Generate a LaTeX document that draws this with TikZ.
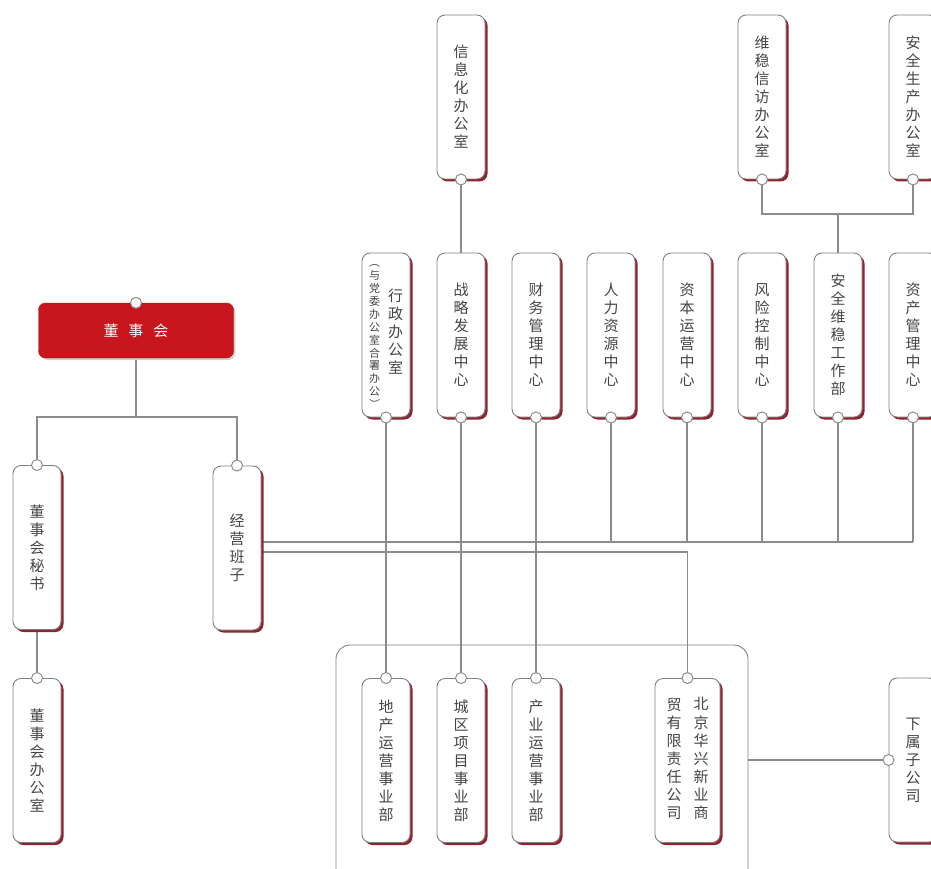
\documentclass[tikz,border=0pt]{standalone}
\usepackage{fontspec}
\newfontfamily\cjk{Noto Sans CJK SC}
\usetikzlibrary{shadows,backgrounds}
\definecolor{linegrey}{HTML}{8C8C8C}
\definecolor{boxgrey}{HTML}{808080}
\definecolor{textgrey}{HTML}{454545}
\definecolor{boardred}{HTML}{C8161E}
\definecolor{shadowred}{HTML}{8E2430}

\begin{document}
\begin{tikzpicture}[x=1pt,y=-1pt,
  line/.style={draw=linegrey,line width=1.2pt},
  unit/.style={draw=boxgrey,line width=0.9pt,fill=white,rounded corners=8pt,
    minimum width=48pt,minimum height=164pt,inner sep=0pt,align=center,
    text=textgrey,font=\cjk\fontsize{15}{18}\selectfont,
    general shadow={fill=shadowred,shadow xshift=2.5pt,shadow yshift=-2.5pt}},
  wide/.style={unit,minimum width=65pt},
  board/.style={fill=boardred,draw=boardred!85!black,rounded corners=7pt,
    minimum width=195pt,minimum height=55pt,text=white,
    font=\cjk\fontsize{15}{18}\selectfont,
    general shadow={fill=gray!35,shadow xshift=2pt,shadow yshift=-2pt}},
  frame/.style={draw=boxgrey,line width=0.9pt,rounded corners=14pt,
    minimum width=412pt,minimum height=240pt},
  joint/.style={draw=linegrey,line width=1pt,fill=white}]
  \def\vcol#1{\begin{tabular}{@{}c@{}}#1\end{tabular}}
  \useasboundingbox (0,0) rectangle (931,869);
  % board and its secretary
  \node[board] (board) at (136,330.5) {董\hspace{10pt}事\hspace{10pt}会};
  \node[unit] (mishu) at (37,547.5) {董\\事\\会\\秘\\书};
  \node[unit] (jyb) at (237,548) {经\\营\\班\\子};
  \node[unit] (dshb) at (37,760.5) {董\\事\\会\\办\\公\\室};
  % top row
  \node[unit] (xxb) at (461,97) {信\\息\\化\\办\\公\\室};
  \node[unit] (wwb) at (762,97) {维\\稳\\信\\访\\办\\公\\室};
  \node[unit] (aqb) at (913,97) {安\\全\\生\\产\\办\\公\\室};
  % functional centres
  \node[unit] (xz) at (386,335) {\begin{tabular}{@{}c@{\hspace{8pt}}c@{}}
      {\fontsize{11}{12.5}\selectfont\vcol{︵\\与\\党\\委\\办\\公\\室\\合\\署\\办\\公\\︶}} &
      \vcol{行\\政\\办\\公\\室}\end{tabular}};
  \node[unit] (zl) at (461,335) {战\\略\\发\\展\\中\\心};
  \node[unit] (cw) at (536,335) {财\\务\\管\\理\\中\\心};
  \node[unit] (rl) at (611,335) {人\\力\\资\\源\\中\\心};
  \node[unit] (zb) at (687,335) {资\\本\\运\\营\\中\\心};
  \node[unit] (fx) at (762,335) {风\\险\\控\\制\\中\\心};
  \node[unit] (aw) at (838,335) {安\\全\\维\\稳\\工\\作\\部};
  \node[unit] (zc) at (913,335) {资\\产\\管\\理\\中\\心};
  % business units
  \node[frame] (grp) at (542,765) {};
  \node[unit] (dc) at (386,760.5) {地\\产\\运\\营\\事\\业\\部};
  \node[unit] (cq) at (461,760.5) {城\\区\\项\\目\\事\\业\\部};
  \node[unit] (cy) at (536,760.5) {产\\业\\运\\营\\事\\业\\部};
  \node[wide] (bj) at (687.5,760.5) {\begin{tabular}{@{}c@{\hspace{12pt}}c@{}}
      \vcol{贸\\有\\限\\责\\任\\公\\司} & \vcol{北\\京\\华\\兴\\新\\业\\商}\end{tabular}};
  \node[unit] (xs) at (913,760) {下\\属\\子\\公\\司};
  % connectors
  \begin{scope}[on background layer]
    \coordinate (split) at (136,417);
    \coordinate (busa) at (261,542);
    \coordinate (busb) at (261,552);
    \coordinate (wjunc) at (838,214);
    \draw[line] (board.south) -- (split);
    \draw[line] (mishu.north) |- (split) -| (jyb.north);
    \draw[line] (mishu.south) -- (dshb.north);
    \draw[line] (busa) -- (zc.south |- busa);
    \foreach \n in {rl,zb,fx,aw,zc}
      \draw[line] (\n.south) -- (\n.south |- busa);
    \draw[line] (xz.south) -- (dc.north);
    \draw[line] (zl.south) -- (cq.north);
    \draw[line] (cw.south) -- (cy.north);
    \draw[line] (busb) -| (bj.north);
    \draw[line] (xxb.south) -- (zl.north);
    \draw[line] (wwb.south) |- (wjunc) -| (aqb.south);
    \draw[line] (wjunc) -- (aw.north);
    \draw[line] (grp.east |- xs.west) -- (xs.west);
  \end{scope}
  % joints
  \foreach \p in {board.north,mishu.north,jyb.north,dshb.north,xxb.south,wwb.south,
      aqb.south,xz.south,zl.south,cw.south,rl.south,zb.south,fx.south,aw.south,
      zc.south,dc.north,cq.north,cy.north,bj.north,xs.west}
    \filldraw[joint] (\p) circle (5.5pt);
\end{tikzpicture}
\end{document}
